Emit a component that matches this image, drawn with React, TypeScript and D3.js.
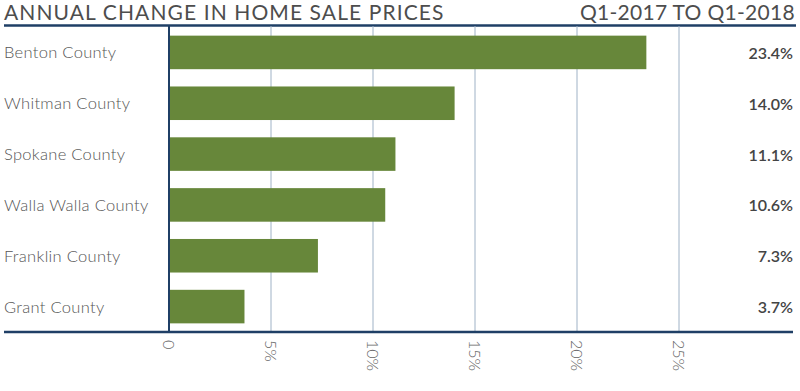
import React from "react";
import * as d3 from "d3";

const categories = ["Benton County", "Whitman County", "Spokane County", "Walla Walla County", "Franklin County", "Grant County"];
const values = [23.4, 14.0, 11.1, 10.6, 7.3, 3.7];
const valueLabels = ["23.4%", "14.0%", "11.1%", "10.6%", "7.3%", "3.7%"];
const ticks = [0, 5, 10, 15, 20, 25];
const tickLabels = ["0", "5%", "10%", "15%", "20%", "25%"];
const title = "ANNUAL CHANGE IN HOME SALE PRICES";
const subtitle = "Q1-2017 TO Q1-2018";

export default function App() {
  const W = 800, H = 391;
  const x = d3.scaleLinear().domain([0, 25]).range([169, 679]);
  const y = d3.scaleBand<string>().domain(categories).range([27, 332]).paddingInner(0.34).paddingOuter(0.17);
  const font = "Lato, 'Open Sans', sans-serif";
  return (
    <svg width={W} height={H} style={{ position: "absolute", left: 0, top: 0 }}>
      <rect width={W} height={H} fill="#fff" />
      <text x={4} y={20} fontFamily={font} fontSize={21} fill="#4d4d4d" letterSpacing={1.1}>{title}</text>
      <text x={795} y={20} textAnchor="end" fontFamily={font} fontSize={21} fill="#4d4d4d" letterSpacing={0.3}>{subtitle}</text>
      <line x1={4} x2={796} y1={25.5} y2={25.5} stroke="#1f3f66" strokeWidth={2.5} />
      {ticks.slice(1).map((t) => (
        <line key={t} x1={x(t)} x2={x(t)} y1={26} y2={332} stroke="#9fb2c6" strokeWidth={1} />
      ))}
      {categories.map((c, i) => (
        <g key={c}>
          <rect x={x(0)} y={y(c)!} width={x(values[i]) - x(0)} height={y.bandwidth()} fill="#67873a" />
          <text x={4} y={y(c)! + y.bandwidth() / 2} dominantBaseline="central" fontFamily={font} fontSize={16.5} fontWeight={300} fill="#555" letterSpacing={0.3}>{c}</text>
          <text x={793} y={y(c)! + y.bandwidth() / 2} dominantBaseline="central" textAnchor="end" fontFamily={font} fontSize={16} fontWeight={600} fill="#444">{valueLabels[i]}</text>
        </g>
      ))}
      <line x1={x(0)} x2={x(0)} y1={26} y2={333} stroke="#1f3f66" strokeWidth={2} />
      <line x1={4} x2={793} y1={332} y2={332} stroke="#1f3f66" strokeWidth={2.5} />
      {ticks.map((t, i) => (
        <text key={t} transform={`translate(${x(t)},340) rotate(90)`} dominantBaseline="central" fontFamily={font} fontSize={16} fontWeight={300} fill="#666">{tickLabels[i]}</text>
      ))}
    </svg>
  );
}
